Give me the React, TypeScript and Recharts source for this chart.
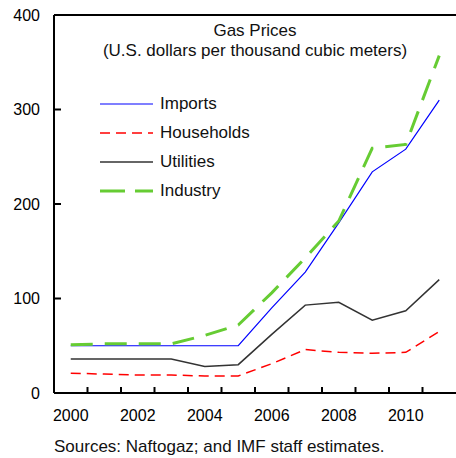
import React from 'react';
import { LineChart, Line, XAxis, YAxis, ReferenceLine, Legend } from 'recharts';

const years = [2000, 2001, 2002, 2003, 2004, 2005, 2006, 2007, 2008, 2009, 2010, 2011];
const imports = [50, 50, 50, 50, 50, 50, 90, 128, 180, 234, 258, 310];
const households = [21, 20, 19, 19, 18, 18, 31, 46, 43, 42, 43, 65];
const utilities = [36, 36, 36, 36, 28, 30, 62, 93, 96, 77, 87, 120];
const industry = [51, 52, 52, 52, 61, 72, 106, 143, 182, 259, 263, 357];

const yearLabels = [2000, 2002, 2004, 2006, 2008, 2010];
const yTicks = [0, 100, 200, 300, 400];
// tick marks sit between the years
const yearBounds = years.slice(0, -1).map((y) => y + 0.5);

const data = years.map((year, i) => ({
  year,
  Imports: imports[i],
  Households: households[i],
  Utilities: utilities[i],
  Industry: industry[i],
}));

const FONT = '"Liberation Sans", Arial, sans-serif';

// both axis pairs share the same domain; series are split so each pair is in use
const series = [
  { key: 'Imports', color: '#0000ff', width: 1.2, dash: undefined as string | undefined, axis: 'lab' },
  { key: 'Households', color: '#ff0000', width: 1.5, dash: '10 6', axis: 'inner' },
  { key: 'Utilities', color: '#333333', width: 1.5, dash: undefined, axis: 'lab' },
  { key: 'Industry', color: '#66cc33', width: 3, dash: '22 12', axis: 'inner' },
];

const LegendBox = () => (
  <div style={{ fontFamily: FONT, fontSize: 17, color: '#111' }}>
    {series.map((s) => (
      <div key={s.key} style={{ display: 'flex', alignItems: 'center', height: 28.8 }}>
        <svg width={60} height={10} style={{ display: 'block' }}>
          <line x1={0} y1={5} x2={53} y2={5} stroke={s.color} strokeWidth={s.width}
            strokeDasharray={s.key === 'Industry' ? '25 10' : s.dash} />
        </svg>
        <span>{s.key}</span>
      </div>
    ))}
  </div>
);

// inward tick marks drawn by the tick renderer (tickSize/margin 0 so x,y is on the axis)
const XMark = (p: any) => <line x1={p.x} y1={p.y} x2={p.x} y2={p.y - 6} stroke="#000" strokeWidth={2} />;
const YMark = (p: any) => <line x1={p.x} y1={p.y} x2={p.x + 7} y2={p.y} stroke="#000" strokeWidth={2} />;

export default function App() {
  return (
    <div style={{ position: 'relative', width: 456, height: 458, background: '#fff' }}>
      <style>{'body{margin:0}'}</style>
      <LineChart width={456} height={458} data={data}
        margin={{ top: 15, right: 0, bottom: 0, left: 0 }}>
        <XAxis xAxisId="lab" dataKey="year" type="number" domain={[1999.5, 2011.5]}
          ticks={yearLabels} tickLine={false} axisLine={false} tickSize={0} tickMargin={17}
          height={65} tick={{ fill: '#000', fontSize: 16, fontFamily: FONT }} />
        <XAxis xAxisId="inner" dataKey="year" type="number" domain={[1999.5, 2011.5]}
          ticks={yearBounds} mirror tickSize={0} tickMargin={0} tick={<XMark />} interval={0}
          tickLine={false} axisLine={{ stroke: '#000', strokeWidth: 2 }} />
        <YAxis yAxisId="lab" type="number" domain={[0, 400]} ticks={yTicks} width={54}
          tickLine={false} axisLine={false} tickSize={0} tickMargin={14}
          tick={{ fill: '#000', fontSize: 16, fontFamily: FONT }} />
        <YAxis yAxisId="inner" type="number" domain={[0, 400]} ticks={yTicks} mirror
          tickSize={0} tickMargin={0} tick={<YMark />} interval={0}
          tickLine={false} axisLine={{ stroke: '#000', strokeWidth: 2 }} />
        <ReferenceLine xAxisId="lab" yAxisId="lab" y={400} stroke="#000" strokeWidth={2} />
        {series.map((s) => (
          <Line key={s.key} xAxisId={s.axis} yAxisId={s.axis} dataKey={s.key} type="linear"
            stroke={s.color} strokeWidth={s.width} strokeDasharray={s.dash}
            dot={false} activeDot={false} isAnimationActive={false} />
        ))}
        <Legend layout="vertical" align="center" verticalAlign="middle" content={() => <LegendBox />}
          wrapperStyle={{ left: 100, top: 90, width: 200, height: 120 }} />
      </LineChart>
      <div style={{ position: 'absolute', left: 0, top: 21, width: 510, textAlign: 'center',
        fontFamily: FONT, fontSize: 17, lineHeight: '20px', color: '#111' }}>
        Gas Prices<br />(U.S. dollars per thousand cubic meters)
      </div>
      <div style={{ position: 'absolute', left: 54, top: 437, fontFamily: FONT, fontSize: 17,
        lineHeight: '20px', color: '#111', whiteSpace: 'nowrap' }}>
        Sources: Naftogaz; and IMF staff estimates.
      </div>
    </div>
  );
}
